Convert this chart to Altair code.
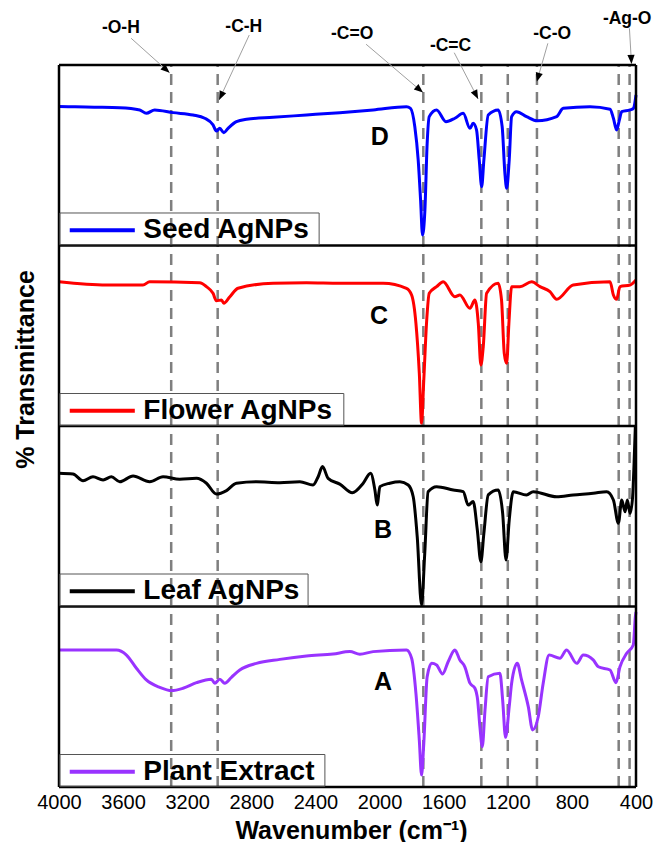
import math
import altair as alt
import pandas as pd

# ---------------- spectra: wavenumber (cm-1) and transmittance inside its panel (%) ----------------
seed_wn = [4000, 3900, 3780, 3621, 3496, 3455, 3403, 3288, 3164, 3091,
           3039, 3018, 2997, 2972, 2945, 2893, 2830, 2664, 2456, 2248,
           2040, 1832, 1807, 1780, 1759, 1744, 1732, 1717, 1703, 1690,
           1644, 1586, 1530, 1478, 1436, 1416, 1395, 1378, 1363, 1349,
           1322, 1260, 1235, 1218, 1207, 1191, 1176, 1145, 1083, 1016,
           895, 854, 687, 562, 541, 521, 504, 489, 437, 416, 400]
seed_tr = [77.0, 76.8, 76.6, 76.3, 75.1, 73.2, 75.1, 73.6, 72.3, 70.5,
           66.8, 63.4, 64.9, 62.5, 64.9, 68.6, 69.9, 71.0, 72.3, 73.6,
           75.1, 76.9, 76.0, 65.8, 47.4, 25.2, 5.8, 19.7, 56.6, 71.4,
           75.1, 68.6, 70.5, 73.2, 64.9, 67.7, 64.0, 47.4, 32.6, 47.4,
           72.3, 75.1, 65.8, 40.0, 31.7, 47.4, 71.4, 74.1, 71.4, 69.1,
           71.4, 76.0, 76.9, 75.5, 70.5, 64.0, 69.5, 74.1, 75.1, 76.0, 83.4]

flower_wn = [4000, 3704, 3476, 3434, 3122, 3080, 3039, 3018, 2986, 2972,
             2934, 2883, 2664, 2456, 2248, 1978, 1832, 1800, 1773, 1752,
             1738, 1724, 1707, 1690, 1644, 1603, 1530, 1499, 1436, 1405,
             1384, 1368, 1353, 1332, 1260, 1239, 1222, 1207, 1193, 1176,
             1124, 1051, 999, 937, 895, 792, 562, 541, 521, 500, 437, 400]
flower_tr = [79.9, 78.1, 78.1, 79.9, 79.3, 77.2, 73.5, 69.4, 69.8, 68.0,
             71.6, 76.3, 79.1, 79.4, 79.1, 79.1, 76.3, 72.6, 56.9, 29.2,
             1.5, 25.5, 56.9, 73.5, 77.2, 79.9, 71.6, 72.6, 65.2, 69.8,
             56.9, 33.8, 43.9, 73.5, 79.1, 69.8, 40.3, 34.7, 56.9, 77.2,
             77.2, 79.9, 77.2, 74.4, 70.2, 78.1, 79.9, 72.6, 70.2, 77.2, 78.1, 80.9]

leaf_wn = [4000, 3913, 3850, 3788, 3725, 3673, 3621, 3538, 3434, 3351,
           3247, 3142, 3080, 3018, 2955, 2893, 2768, 2622, 2497, 2415,
           2383, 2356, 2321, 2248, 2170, 2102, 2056, 2029, 2015, 1998,
           1936, 1873, 1821, 1790, 1765, 1738, 1718, 1697, 1644, 1540,
           1478, 1447, 1416, 1390, 1368, 1349, 1322, 1260, 1232, 1211,
           1191, 1166, 1083, 1041, 895, 792, 667, 583, 541, 510,
           489, 468, 454, 437, 421, 412, 404]
leaf_tr = [73.8, 73.4, 69.7, 71.9, 70.1, 71.9, 69.1, 72.3, 69.1, 71.9,
           70.5, 71.0, 68.3, 62.3, 64.2, 68.3, 69.1, 68.6, 69.1, 67.3,
           71.9, 77.5, 71.0, 67.8, 63.0, 68.3, 73.8, 64.5, 56.2, 66.4,
           68.3, 69.1, 67.3, 60.8, 38.7, 0.8, 29.5, 63.6, 66.4, 64.5,
           63.6, 56.2, 58.1, 42.4, 24.8, 40.6, 61.8, 64.5, 51.6, 25.8,
           47.9, 63.6, 61.8, 63.6, 60.8, 61.8, 62.7, 63.6, 59.0, 46.1,
           59.0, 52.5, 59.0, 51.6, 60.8, 79.3, 100.0]

plant_wn = [4000, 3642, 3579, 3517, 3455, 3371, 3298, 3226, 3142, 3049,
            3028, 2997, 2966, 2924, 2872, 2768, 2622, 2456, 2290, 2185,
            2123, 2040, 1832, 1800, 1773, 1752, 1738, 1724, 1703, 1675,
            1644, 1607, 1572, 1530, 1499, 1468, 1436, 1405, 1388, 1374,
            1359, 1342, 1322, 1249, 1232, 1214, 1191, 1176, 1141, 1114,
            1072, 1045, 1010, 979, 942, 875, 833, 770, 729, 667,
            635, 562, 525, 500, 458, 417, 404, 400]
plant_tr = [75.9, 75.9, 73.1, 65.8, 59.3, 55.2, 53.4, 54.7, 57.8, 59.7,
            57.5, 59.7, 57.5, 60.8, 64.8, 68.5, 70.7, 72.6, 73.7, 75.0,
            73.6, 75.0, 75.9, 71.3, 51.9, 26.0, 6.6, 24.2, 61.1, 68.5,
            67.6, 62.6, 69.4, 75.9, 70.4, 66.6, 57.5, 54.7, 48.2, 33.4,
            22.3, 42.7, 61.1, 63.0, 48.2, 27.5, 44.5, 57.5, 68.5, 59.3,
            44.5, 31.6, 38.9, 57.5, 73.1, 71.3, 75.9, 68.5, 73.1, 70.4,
            66.6, 64.8, 57.8, 66.6, 74.1, 78.7, 94.3, 97.0]

series_names = ["Plant Extract", "Leaf AgNPs", "Flower AgNPs", "Seed AgNPs"]
panel_letters = ["A", "B", "C", "D"]
series_colors = ["#9933FF", "#000000", "#FF0000", "#0000FF"]
panel_offsets = [0, 100, 200, 300]
spectra = [(plant_wn, plant_tr), (leaf_wn, leaf_tr), (flower_wn, flower_tr), (seed_wn, seed_tr)]

# marked bands (dashed guide lines) and their labels
guide_wn = [3300, 3010, 1727, 1365, 1200, 1018, 508, 440]
band_labels = ["-O-H", "-C-H", "-C=O", "-C=C", "-C-O", "-Ag-O"]

# ---------------- layout helpers (annotation placement) ----------------
W, H = 577, 787
Y_TOP = 436.0
X_MIN, X_MAX = 400, 4000
ppw = W / (X_MAX - X_MIN)
ppu = H / Y_TOP

label_x = [3614, 2847, 2171, 1557, 923, 455]
label_y = [420.3, 421.2, 417.0, 410.7, 417.0, 425.5]
arrow_x0 = [3550, 2813, 2084, 1534, 950, 441]
arrow_y0 = [414.8, 416.6, 411.5, 406.8, 412.0, 420.3]
arrow_x1 = [3310, 3001, 1729, 1385, 1019, 428]
arrow_y1 = [395.7, 380.6, 384.7, 381.2, 390.7, 400.6]

angles = []
for a, b, c, d in zip(arrow_x0, arrow_y0, arrow_x1, arrow_y1):
    dx = -(c - a) * ppw
    dy = -(d - b) * ppu
    angles.append(math.degrees(math.atan2(dx, -dy)) % 360)

# ---------------- data frames ----------------
rows = []
for name, (wn, tr), off in zip(series_names, spectra, panel_offsets):
    for w, t in zip(wn, tr):
        rows.append({"series": name, "x": w, "y": off + t})
curves = pd.DataFrame(rows)

xs = alt.Scale(domain=[X_MIN, X_MAX], reverse=True, nice=False, zero=False)
ys = alt.Scale(domain=[0, Y_TOP], nice=False, zero=False)
cscale = alt.Scale(domain=series_names, range=series_colors)

FONT = "Liberation Sans"

x_axis = alt.Axis(values=[4000, 3600, 3200, 2800, 2400, 2000, 1600, 1200, 800, 400],
                  format="d", labelFontSize=20, labelFont=FONT, labelColor="black",
                  labelFlush=False, labelPadding=5, ticks=False, tickSize=0, domain=False,
                  grid=False, title="Wavenumber (cm\u207b\u00b9)", titleFont=FONT,
                  titleFontSize=25, titleFontWeight="bold", titleColor="black",
                  titleX=292, titleY=43, titleAlign="center", titleBaseline="middle")
y_axis = alt.Axis(labels=False, ticks=False, domain=False, grid=False,
                  title="% Transmittance", titleFont=FONT, titleFontSize=25,
                  titleFontWeight="bold", titleColor="black", titleAngle=270,
                  titleX=-34, titleY=369, titleAlign="center", titleBaseline="middle")


def X(field):
    return alt.X(field, scale=xs, axis=x_axis)


def Y(field):
    return alt.Y(field, scale=ys, axis=y_axis)


# dashed guides
guides = pd.DataFrame({"x": guide_wn, "y": [0] * len(guide_wn), "y2": [400] * len(guide_wn)})
guide_layer = alt.Chart(guides).mark_rule(color="#7f7f7f", strokeWidth=2.5, strokeDash=[11, 7]).encode(
    x=X("x:Q"), y=Y("y:Q"), y2="y2:Q")

curve_layer = alt.Chart(curves).mark_line(strokeWidth=3, interpolate="monotone").encode(
    x=X("x:Q"), y=Y("y:Q"),
    color=alt.Color("series:N", scale=cscale, legend=None),
    order="x:Q",
)

# frame lines
hframe = pd.DataFrame({"x": [X_MAX] * 5, "x2": [X_MIN] * 5, "y": [0, 100, 200, 300, 400]})
vframe = pd.DataFrame({"x": [X_MAX, X_MIN], "y": [0, 0], "y2": [400, 400]})
hframe_layer = alt.Chart(hframe).mark_rule(color="black", strokeWidth=2.5).encode(
    x=X("x:Q"), x2="x2:Q", y=Y("y:Q"))
vframe_layer = alt.Chart(vframe).mark_rule(color="black", strokeWidth=2.5).encode(
    x=X("x:Q"), y=Y("y:Q"), y2="y2:Q")

# legends inside each panel
leg_box_right = [2341, 2446, 2223, 2377]
legends = pd.DataFrame({
    "series": series_names,
    "bx": [3995] * 4,
    "bx2": leg_box_right,
    "by": [o + 0.4 for o in panel_offsets],
    "by2": [o + 18.0 for o in panel_offsets],
    "lx": [3933] * 4,
    "lx2": [3527] * 4,
    "ly": [o + 8.4 for o in panel_offsets],
    "tx": [3474] * 4,
})
box_layer = alt.Chart(legends).mark_rect(fillOpacity=0, stroke="#555555", strokeWidth=1).encode(
    x=X("bx:Q"), x2="bx2:Q", y=Y("by:Q"), y2="by2:Q")
legline_layer = alt.Chart(legends).mark_rule(strokeWidth=4).encode(
    x=X("lx:Q"), x2="lx2:Q", y=Y("ly:Q"),
    color=alt.Color("series:N", scale=cscale, legend=None))
legtext_layer = alt.Chart(legends).mark_text(align="left", baseline="middle", fontSize=28,
                                             fontWeight="bold", font=FONT, color="black").encode(
    x=X("tx:Q"), y=Y("ly:Q"), text="series:N")

# panel letters
letters = pd.DataFrame({"t": panel_letters, "x": [1978, 1978, 2003, 1998],
                        "y": [58.3, 142.4, 260.9, 359.9]})
letter_layer = alt.Chart(letters).mark_text(fontSize=25, fontWeight="bold", font=FONT, color="black",
                                            baseline="middle").encode(
    x=X("x:Q"), y=Y("y:Q"), text="t:N")

# band annotations
ann = pd.DataFrame({"t": band_labels, "x": label_x, "y": label_y,
                    "x0": arrow_x0, "y0": arrow_y0, "x1": arrow_x1, "y1": arrow_y1, "ang": angles})
ann_text = alt.Chart(ann).mark_text(fontSize=17.5, fontWeight="bold", font=FONT, color="black",
                                    baseline="middle").encode(
    x=X("x:Q"), y=Y("y:Q"), text="t:N")
ann_line = alt.Chart(ann).mark_rule(color="#a0a0a0", strokeWidth=1).encode(
    x=X("x0:Q"), x2="x1:Q", y=Y("y0:Q"), y2="y1:Q")
ann_head = alt.Chart(ann).mark_point(shape="M0,0L-0.4,1L0.4,1Z", filled=True, color="black",
                                     opacity=1, size=324).encode(
    x=X("x1:Q"), y=Y("y1:Q"), angle=alt.Angle("ang:Q", scale=None))

chart = alt.layer(
    guide_layer, curve_layer, hframe_layer, vframe_layer,
    box_layer, legline_layer, legtext_layer, letter_layer,
    ann_line, ann_head, ann_text,
).properties(
    width=W, height=H,
    padding={"left": 59, "top": 0, "right": 20, "bottom": 55},
    autosize=alt.AutoSizeParams(type="none"),
).configure(font=FONT).configure_view(stroke="transparent", strokeWidth=0)

chart.save("out.html", embed_options={"renderer": "svg", "actions": False})
